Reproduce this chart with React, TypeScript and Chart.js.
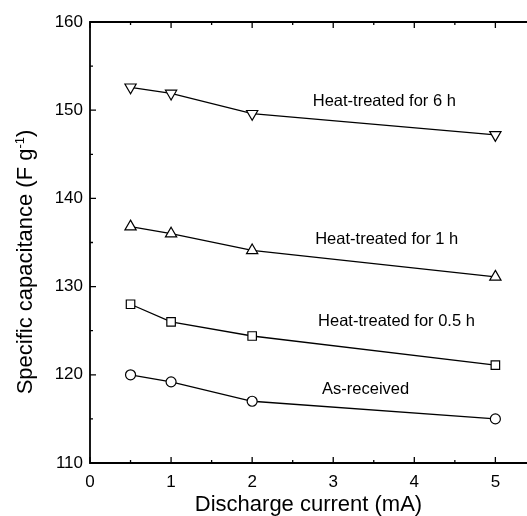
import React, { useEffect, useRef } from "react";
import { Chart, registerables } from "chart.js";

Chart.register(...registerables);

// ---- data ----
const currents = [0.5, 1, 2, 5];
const asReceived = [120.0, 119.2, 117.0, 115.0];
const heat05h = [128.0, 126.0, 124.4, 121.1];
const heat1h = [136.8, 136.0, 134.1, 131.1];
const heat6h = [152.6, 151.9, 149.6, 147.2];

const xTicks = [0, 1, 2, 3, 4, 5];
const xMinorTicks = [0.5, 1.5, 2.5, 3.5, 4.5];
const yTicks = [110, 120, 130, 140, 150, 160];
const yMinorTicks = [115, 125, 135, 145, 155];

const seriesNames = ["As-received", "Heat-treated for 0.5 h", "Heat-treated for 1 h", "Heat-treated for 6 h"];
const nameAtX = [3.4, 3.78, 3.66, 3.63];
const nameAtY = [118.5, 126.2, 135.55, 151.12];

const xTitle = "Discharge current (mA)";
const yTitleMain = "Specific capacitance (F g";
const yTitleSup = "-1";
const yTitleEnd = ")";

const FONT = "'Liberation Sans', Arial, Helvetica, sans-serif";

const framePlugin = {
  id: "frameAndLabels",
  afterDraw(chart: any) {
    const { ctx, chartArea } = chart;
    const { left, right, top, bottom } = chartArea;
    const xs = chart.scales.x;
    const ys = chart.scales.y;
    ctx.save();
    ctx.strokeStyle = "#000";
    ctx.lineWidth = 1.8;
    ctx.beginPath();
    ctx.moveTo(right + 2, top);
    ctx.lineTo(left, top);
    ctx.lineTo(left, bottom);
    ctx.lineTo(right + 2, bottom);
    ctx.stroke();

    ctx.lineWidth = 1.3;
    ctx.beginPath();
    const xt = (v: number, len: number) => {
      const p = xs.getPixelForValue(v);
      ctx.moveTo(p, bottom);
      ctx.lineTo(p, bottom - len);
      ctx.moveTo(p, top);
      ctx.lineTo(p, top + len);
    };
    const yt = (v: number, len: number) => {
      const p = ys.getPixelForValue(v);
      ctx.moveTo(left, p);
      ctx.lineTo(left + len, p);
    };
    xTicks.forEach((v) => xt(v, 6));
    xMinorTicks.forEach((v) => xt(v, 3));
    yTicks.forEach((v) => yt(v, 6));
    yMinorTicks.forEach((v) => yt(v, 3));
    ctx.stroke();

    // series annotations
    ctx.fillStyle = "#000";
    const fs = 16.5;
    ctx.font = `${fs}px ${FONT}`;
    ctx.textAlign = "center";
    ctx.textBaseline = "alphabetic";
    seriesNames.forEach((name, i) => {
      const px = xs.getPixelForValue(nameAtX[i]);
      const py = ys.getPixelForValue(nameAtY[i]);
      ctx.fillText(name, px, py + fs * 0.358);
    });

    // y title with superscript
    const tfs = 22;
    const sfs = 13;
    ctx.translate(24, 262);
    ctx.rotate(-Math.PI / 2);
    ctx.font = `${tfs}px ${FONT}`;
    const w1 = ctx.measureText(yTitleMain).width;
    const w3 = ctx.measureText(yTitleEnd).width;
    ctx.font = `${sfs}px ${FONT}`;
    const w2 = ctx.measureText(yTitleSup).width;
    const total = w1 + w2 + w3;
    let x0 = -total / 2;
    const base = tfs * 0.358;
    ctx.textAlign = "left";
    ctx.font = `${tfs}px ${FONT}`;
    ctx.fillText(yTitleMain, x0, base);
    x0 += w1;
    ctx.font = `${sfs}px ${FONT}`;
    ctx.fillText(yTitleSup, x0, base - 8);
    x0 += w2;
    ctx.font = `${tfs}px ${FONT}`;
    ctx.fillText(yTitleEnd, x0, base);
    ctx.restore();
  },
};

function makeSeries(values: number[], style: string, rotation: number, radius: number) {
  return {
    data: currents.map((c, i) => ({ x: c, y: values[i] })),
    borderColor: "#000",
    borderWidth: 1.3,
    pointStyle: style,
    pointRotation: rotation,
    pointRadius: radius,
    pointBackgroundColor: "#fff",
    pointBorderColor: "#000",
    pointBorderWidth: 1.2,
    fill: false,
    tension: 0,
  };
}

export default function App() {
  const ref = useRef<HTMLCanvasElement | null>(null);
  useEffect(() => {
    if (!ref.current) return;
    const chart = new Chart(ref.current, {
      type: "line",
      data: {
        datasets: [
          { label: seriesNames[0], ...makeSeries(asReceived, "circle", 0, 5) },
          { label: seriesNames[1], ...makeSeries(heat05h, "rect", 0, 6) },
          { label: seriesNames[2], ...makeSeries(heat1h, "triangle", 0, 6.5) },
          { label: seriesNames[3], ...makeSeries(heat6h, "triangle", 180, 6.5) },
        ] as any,
      },
      options: {
        animation: false,
        responsive: false,
        devicePixelRatio: 1,
        layout: { autoPadding: false, padding: { top: 22, right: 0, left: 0, bottom: 0 } },
        plugins: { legend: { display: false }, tooltip: { enabled: false } },
        scales: {
          x: {
            type: "linear",
            min: 0,
            max: 5.39,
            afterBuildTicks: (s: any) => {
              s.ticks = xTicks.map((v) => ({ value: v }));
            },
            afterFit: (s: any) => {
              s.height = 53;
              s.paddingRight = 0;
              s.paddingLeft = 0;
            },
            ticks: {
              color: "#000",
              font: { family: FONT, size: 17 },
              padding: 9,
              maxRotation: 0,
              autoSkip: false,
            },
            grid: { display: false, drawTicks: false },
            border: { display: false },
            title: {
              display: true,
              text: xTitle,
              color: "#000",
              font: { family: FONT, size: 22, lineHeight: 1 },
              padding: { top: 0, bottom: 0 },
            },
          },
          y: {
            type: "linear",
            min: 110,
            max: 160,
            afterBuildTicks: (s: any) => {
              s.ticks = yTicks.map((v) => ({ value: v }));
            },
            afterFit: (s: any) => {
              s.width = 90;
            },
            ticks: {
              color: "#000",
              font: { family: FONT, size: 17 },
              padding: 7,
              autoSkip: false,
            },
            grid: { display: false, drawTicks: false },
            border: { display: false },
          },
        },
      } as any,
      plugins: [framePlugin],
    });
    return () => chart.destroy();
  }, []);
  return (
    <div style={{ position: "absolute", left: 0, top: 0, width: 527, height: 516, background: "#fff" }}>
      <canvas ref={ref} width={527} height={516} style={{ display: "block" }} />
    </div>
  );
}
